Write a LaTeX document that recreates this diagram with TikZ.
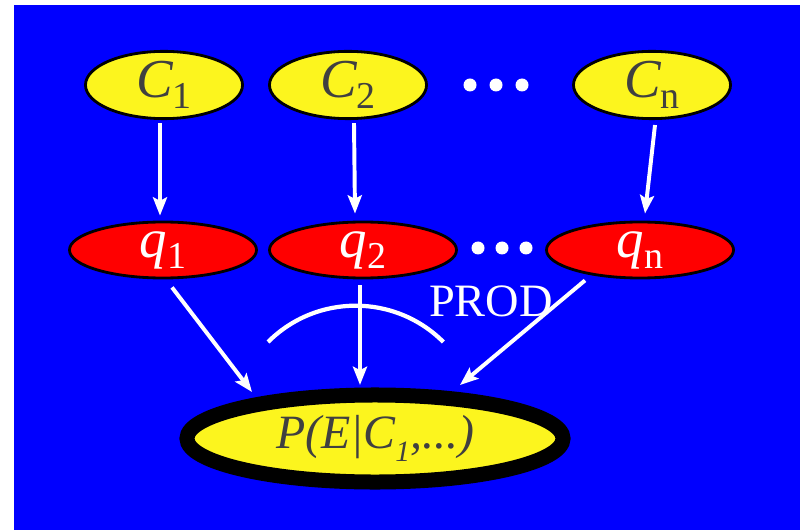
\documentclass[tikz,border=0pt]{standalone}
\usepackage{fontspec}
\setmainfont{Liberation Serif}
\usetikzlibrary{positioning,shapes.geometric,arrows.meta,calc}
\definecolor{slide}   {HTML}{0000FF}
\definecolor{lemon}   {HTML}{FCF51E}
\definecolor{cherry}  {HTML}{FF0000}
\definecolor{graphite}{HTML}{404040}
\newcommand{\lowidx}[1]{\raisebox{-8pt}{\fontsize{27}{27}\selectfont\upshape #1}}
\tikzset{
  >={Stealth[length=13pt,width=10pt,inset=2.5pt]},
  % --- nodes
  cause/.style = {ellipse, draw=black, line width=2pt, fill=lemon, text=graphite,
                  minimum width=3.925cm, minimum height=1.65cm, inner sep=0pt,
                  font=\fontsize{39}{42}\selectfont\itshape},
  prob/.style  = {cause, fill=cherry, text=white,
                  minimum width=4.675cm, minimum height=1.4cm},
  goal/.style  = {ellipse, draw=black, line width=0.375cm, fill=lemon, text=graphite,
                  minimum width=9.4cm, minimum height=2.175cm, inner sep=0pt,
                  font=\fontsize{34}{38}\selectfont\itshape},
  lbl/.style   = {text=white, inner sep=0pt, font=\fontsize{33}{36}\selectfont},
  % --- edges
  e/.style     = {->, draw=white, line width=2.8pt},
}

\begin{document}
\begin{tikzpicture}[x=0.025cm,y=-0.025cm]
  \useasboundingbox (0,0) rectangle (800,530);
  \fill[slide] (14,5) rectangle (800,530);
  % causes
  \node[cause] (c1) at (164,85) {C\lowidx{1}};
  \node[cause] (c2) at (348,85) {C\lowidx{2}};
  \node[cause] (cn) at (652,85) {C\lowidx{n}};
  \foreach \x in {470,496,522} \fill[white] (\x,85) circle (6.5);
  % per-cause factors
  \node[prob] (q1) at (163,250) {q\lowidx{1}};
  \node[prob] (q2) at (363,250) {q\lowidx{2}};
  \node[prob] (qn) at (640,250) {q\lowidx{n}};
  \foreach \x in {478,502,526} \fill[white] (\x,248) circle (6.5);
  % result
  \node[goal] (p) at (375,438.5) {P(E|C\raisebox{-9pt}{\fontsize{21}{21}\selectfont 1},...)};
  \node[lbl] (prod) at (491,301) {PROD};
  \draw[white, line width=3pt] (268,342) arc[start angle=225, end angle=315, radius=124];
  \draw[e] ($(c1.south)+(-4,3)$) -- ($(q1.north)+(-3,-5)$);
  \draw[e] ($(c2.south)+(6,3)$) -- ($(q2.north)+(-8,-7)$);
  \draw[e] ($(cn.south)+(3,5)$) -- ($(qn.north)+(5,-7)$);
  \draw[e] ($(q1.south)+(9,8)$) -- ($(p.north)+(-123,4.5)$);
  \draw[e] ($(q2.south)+(-3,6)$) -- ($(p.north)+(-15,-2.5)$);
  \draw[e] ($(qn.south)+(-55,1)$) -- ($(p.north)+(85,-2.5)$);
\end{tikzpicture}
\end{document}
